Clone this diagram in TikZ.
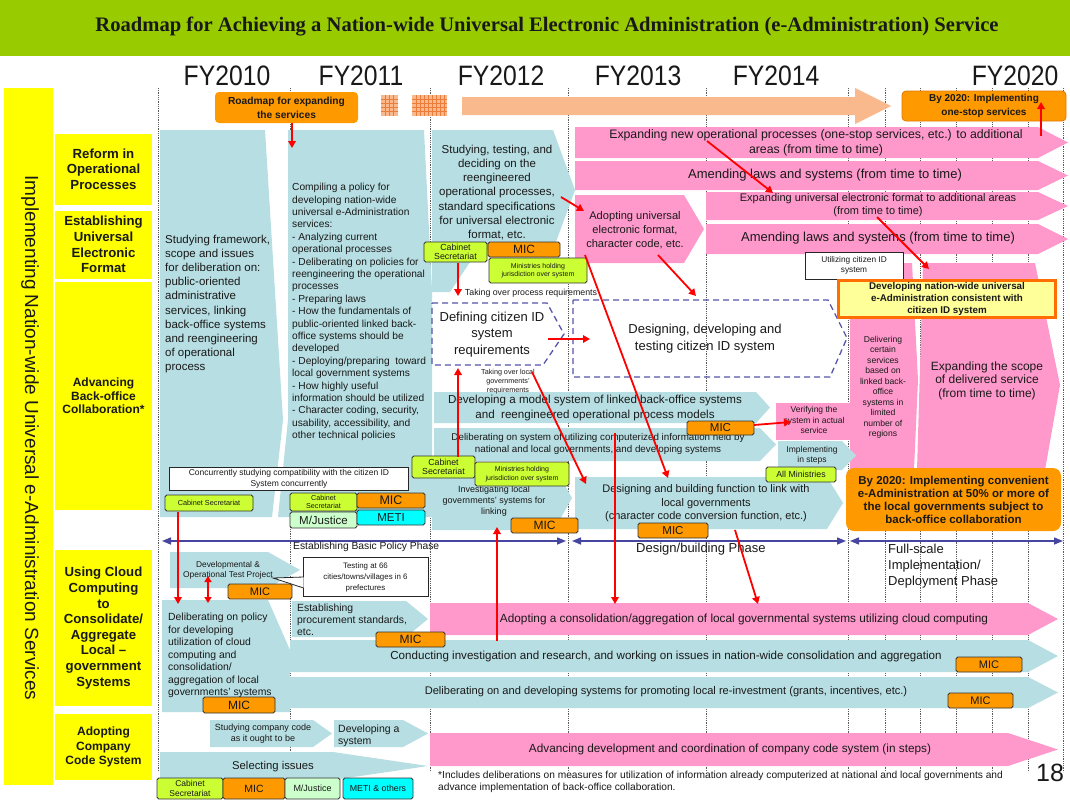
\documentclass[tikz,border=0pt]{standalone}
\usepackage{fontspec}
\setmainfont{Liberation Sans}
\newfontfamily\titlefont{Liberation Serif}
\usetikzlibrary{arrows.meta}
\definecolor{tealc}{RGB}{183,222,226}
\definecolor{pinkc}{RGB}{255,153,204}
\definecolor{yel}{RGB}{255,255,0}
\definecolor{orangec}{RGB}{255,153,0}
\definecolor{limec}{RGB}{204,255,51}
\definecolor{mjc}{RGB}{204,255,204}
\definecolor{cyanc}{RGB}{0,255,255}
\definecolor{lorange}{RGB}{250,185,140}
\definecolor{gridc}{RGB}{235,125,60}
\definecolor{titlegreen}{RGB}{153,204,0}
\definecolor{dashc}{RGB}{85,85,170}
\definecolor{phasec}{RGB}{70,70,160}
\definecolor{txtc}{RGB}{25,25,25}
\definecolor{ylight}{RGB}{255,255,153}
\definecolor{borderor}{RGB}{255,110,0}
\definecolor{boxor}{RGB}{225,120,0}
\definecolor{vlinec}{RGB}{90,90,90}
\definecolor{redc}{RGB}{255,0,0}
\newcommand\fsz[2]{\fontsize{#1}{#2}\selectfont}
\newcommand\pent[6]{\fill[#1] (#2,#3) -- ({#4-#6},#3) -- (#4,{(#3+#5)/2}) -- ({#4-#6},#5) -- (#2,#5) -- cycle;}
\newcommand\tagn[7]{\node[#1, minimum width={(#5-#3)*1pt}, minimum height={(#6-#4)*1pt}] (#2) at ({(#3+#5)/2},{(#4+#6)/2}) {#7};}
\tikzset{
 txt/.style={inner sep=0pt, align=center, text=txtc},
 ltxt/.style={inner sep=0pt, align=left, text=txtc},
 tagb/.style={draw=black!80, line width=0.9pt, rounded corners=1.8pt, inner sep=0pt, text=txtc, align=center},
 mic/.style={tagb, fill=orangec},
 lime/.style={tagb, fill=limec},
 mjus/.style={tagb, fill=mjc},
 meti/.style={tagb, fill=cyanc},
 wbox/.style={draw=black!85, line width=0.8pt, fill=white, inner sep=0pt, text=txtc, align=center},
 lbox/.style={fill=yel, inner sep=0pt, align=center, text=txtc, font=\bfseries\fsz{13.2}{15.6}},
 redarr/.style={draw=redc, line width=1.8pt, -{Triangle[length=7pt,width=7.5pt]}},
 redboth/.style={draw=redc, line width=1.8pt, {Triangle[length=6pt,width=7pt]}-{Triangle[length=6pt,width=7pt]}},
 phase/.style={draw=phasec, line width=1.4pt, {Triangle[length=9pt,width=7pt]}-{Triangle[length=9pt,width=7pt]}},
 dashb/.style={draw=dashc, line width=1.3pt, dash pattern=on 6pt off 4pt},
 vline/.style={draw=vlinec, line width=0.7pt, dash pattern=on 0.9pt off 0.9pt},
}
\begin{document}
\begin{tikzpicture}[x=1pt,y=-1pt]
\useasboundingbox (0,0) rectangle (1070,800);
\fill[white] (0,0) rectangle (1070,800);
% title
\fill[titlegreen] (0,0) rectangle (1070,56);
\node[txt,font=\titlefont\bfseries\fsz{20.6}{22}] (title) at (547,27) {Roadmap for Achieving a Nation-wide Universal Electronic Administration (e-Administration) Service};
% FY labels
\foreach \n/\x/\t in {fya/227/FY2010, fyb/361/FY2011, fyc/501/FY2012, fyd/638/FY2013, fye/776/FY2014, fyf/1015/FY2020}
  \node[txt,font=\fsz{26}{28}] (\n) at (\x,76) {\scalebox{0.95}[1.08]{\t}};
% dotted lines
\foreach \x in {158,290,430,568,706,848,885,920,956,992,1028,1063}
  \draw[vline] (\x,88) -- (\x,772);
% left column
\fill[yel] (4,88) rectangle (53,785);
\node[txt,rotate=-90,font=\fsz{19}{22}] (vt) at (30,438) {Implementing Nation-wide Universal e-Administration Services};
\node[lbox, minimum width=97pt, minimum height=71pt] (lb1) at (103.5,169) {Reform in\\Operational\\Processes};
\node[lbox, minimum width=97pt, minimum height=68pt] (lb2) at (103.5,244.5) {Establishing\\Universal\\Electronic\\Format};
\node[lbox, minimum width=97pt, minimum height=228pt, font=\bfseries\fsz{12}{13.7}] (lb3) at (103.5,396) {Advancing\\Back-office\\Collaboration*};
\node[lbox, minimum width=97pt, minimum height=156pt] (lb4) at (103.5,628) {Using Cloud\\Computing\\to\\Consolidate/\\Aggregate\\Local –\\government\\Systems};
\node[lbox, minimum width=97pt, minimum height=66pt, font=\bfseries\fsz{12}{14.5}] (lb5) at (103.5,747) {Adopting\\Company\\Code System};
% top row
\node[fill=orangec, rounded corners=4pt, minimum width=143pt, minimum height=31pt, inner sep=0pt, align=center, text=txtc, font=\bfseries\fsz{10.2}{14}] (rmap) at (286.5,107.5) {Roadmap for expanding\\the services};
\fill[lorange] (381,95) rectangle (398,116);
\foreach \x in {385,389,393} \draw[gridc,line width=0.6pt] (\x,95) -- (\x,116);
\foreach \y in {99,103,107,111} \draw[gridc,line width=0.6pt] (381,\y) -- (398,\y);
\fill[lorange] (412,95) rectangle (447,116);
\foreach \x in {416,420,424,428,432,436,440,444} \draw[gridc,line width=0.6pt] (\x,95) -- (\x,116);
\foreach \y in {99,103,107,111} \draw[gridc,line width=0.6pt] (412,\y) -- (447,\y);
\fill[lorange] (462,97) -- (855,97) -- (855,88) -- (891,106) -- (855,124) -- (855,115) -- (462,115) -- cycle;
\node[fill=orangec, draw=boxor, line width=0.8pt, rounded corners=4pt, minimum width=164pt, minimum height=30pt, inner sep=0pt, align=center, text=txtc, font=\bfseries\fsz{10}{14}] (by20a) at (984,106) {By 2020: Implementing\\one-stop services};
% teal big shapes
\fill[tealc] (160,130) -- (265,130) -- (283,420) -- (272,517) -- (160,517) -- cycle;
\fill[tealc] (288,130) -- (424,130) -- (432,290) -- (432,517) -- (278,517) -- (288,420) -- cycle;
\fill[tealc] (432,130) -- (553,130) -- (575,190) -- (553,250) -- (478,250) -- (450,292) -- (432,292) -- cycle;
% pink rows
\pent{pinkc}{575}{127}{1068}{158}{30}
\pent{pinkc}{575}{161}{1068}{190}{30}
\pent{pinkc}{575}{195}{704}{263}{20}
\pent{pinkc}{706}{192}{1068}{220}{30}
\pent{pinkc}{706}{224}{1068}{254}{30}
\fill[pinkc] (850,263) -- (912,263) -- (918,380) -- (914,470) -- (850,470) -- cycle;
\fill[pinkc] (923,263) -- (1035,263) -- (1060,385) -- (1045,470) -- (917,470) -- cycle;
\fill[pinkc] (776,403) rectangle (852,440);
% teal middle bands
\pent{tealc}{434}{392}{770}{423}{14}
\pent{tealc}{434}{428}{776}{461}{16}
\pent{tealc}{778}{441}{856}{470}{14}
\pent{tealc}{575}{477}{843}{529}{16}
\pent{tealc}{432}{466}{572}{530}{18}
% cloud rows
\pent{tealc}{170}{552}{300}{588}{32}
\fill[tealc] (162,600) -- (268,600) -- (290,650) -- (290,712) -- (162,712) -- cycle;
\pent{tealc}{292}{601}{428}{637}{22}
\pent{pinkc}{430}{603}{1058}{635}{30}
\pent{tealc}{290}{640}{1058}{672}{30}
\pent{tealc}{290}{677}{1058}{708}{30}
% company rows
\pent{tealc}{210}{720}{332}{747}{19}
\pent{tealc}{334}{720}{428}{747}{25}
\pent{pinkc}{430}{733}{1058}{766}{50}
\pent{tealc}{160}{752}{428}{780}{95}
% dashed boxes
\draw[dashb] (432,303) -- (547,303) -- (564,334) -- (543,365) -- (432,365) -- cycle;
\draw[dashb] (573,300) -- (828,300) -- (847,338) -- (830,377) -- (573,377) -- cycle;
% texts
\node[ltxt,font=\fsz{11.5}{14.2},anchor=west] (st1) at (165,304) {Studying framework,\\scope and issues\\for deliberation on:\\public-oriented\\administrative\\services, linking\\back-office systems\\and reengineering\\of operational\\process};
\node[ltxt,font=\fsz{10.2}{12.4},anchor=west] (st2) at (292,312) {Compiling a policy for\\developing nation-wide\\universal e-Administration\\services:\\- Analyzing current\\operational processes\\- Deliberating on policies for\\reengineering the operational\\processes\\- Preparing laws\\- How the fundamentals of\\public-oriented linked back-\\office systems should be\\developed\\- Deploying/preparing\ \ toward\\local government systems\\- How highly useful\\information should be utilized\\- Character coding, security,\\usability, accessibility, and\\other technical policies};
\node[txt,font=\fsz{11.5}{14.1}] (st3) at (497,192.5) {Studying, testing, and\\deciding on the\\reengineered\\operational processes,\\standard specifications\\for universal electronic\\format, etc.};
\node[txt,font=\fsz{12.3}{15.5}] (p1t) at (816,143) {Expanding new operational processes (one-stop services, etc.) to additional\\areas (from time to time)};
\node[txt,font=\fsz{13}{15}] (p2t) at (825,175) {Amending laws and systems (from time to time)};
\node[txt,font=\fsz{11.1}{14}] (p3t) at (635,230) {Adopting universal\\electronic format,\\character code, etc.};
\node[txt,font=\fsz{11}{13}] (p4t) at (878,205.5) {Expanding universal electronic format to additional areas\\(from time to time)};
\node[txt,font=\fsz{13}{15}] (p5t) at (878,238) {Amending laws and systems (from time to time)};
\node[wbox,font=\fsz{8.3}{10},minimum width=98pt,minimum height=27pt] (util) at (854,265.5) {Utilizing citizen ID\\system};
\node[fill=ylight, draw=borderor, line width=2.2pt, minimum width=217pt, minimum height=37pt, inner sep=0pt, align=center, text=txtc, font=\bfseries\fsz{9.8}{12}] (devnat) at (947,299) {Developing nation-wide universal\\e-Administration consistent with\\citizen ID system};
\node[txt,font=\fsz{8.6}{10.5}] (p6t) at (883,387.5) {Delivering\\certain\\services\\based on\\linked back-\\office\\systems in\\limited\\number of\\regions};
\node[txt,font=\fsz{12}{13.5}] (p7t) at (987,380.5) {Expanding the scope\\of delivered service\\(from time to time)};
\node[txt,font=\fsz{8.8}{10}] (takeproc) at (531,293) {Taking over process requirements};
\node[txt,font=\fsz{13}{16.5}] (defid) at (492,334.5) {Defining citizen ID\\system\\requirements};
\node[txt,font=\fsz{13}{17}] (desid) at (705,338.5) {Designing, developing and\\testing citizen ID system};
\node[txt,font=\fsz{7.2}{9}] (takeloc) at (508,382) {Taking over local\\governments'\\requirements};
\node[txt,font=\fsz{11.6}{15}] (devmod) at (595,407.5) {Developing a model system of linked back-office systems\\and\ \ reengineered operational process models};
\node[txt,font=\fsz{9.8}{12.5}] (delsys) at (598,444) {Deliberating on system of utilizing computerized information held by\\national and local governments, and developing systems};
\node[txt,font=\fsz{8.5}{10.3}] (verif) at (814,420) {Verifying the\\system in actual\\service};
\node[txt,font=\fsz{8.5}{10}] (impst) at (812,455) {Implementing\\in steps};
\node[txt,font=\fsz{11}{13.5}] (desbld) at (706,503.5) {Designing and building function to link with\\local governments\\(character code conversion function, etc.)};
\node[fill=orangec, rounded corners=8pt, minimum width=215pt, minimum height=63pt, inner sep=0pt, align=center, text=txtc, font=\bfseries\fsz{11.5}{13}] (by20b) at (953.5,499.5) {By 2020: Implementing convenient\\e-Administration at 50\% or more of\\the local governments subject to\\back-office collaboration};
\node[txt,font=\fsz{9}{11}] (invest) at (494,501) {Investigating local\\governments' systems for\\linking};
\node[wbox,font=\fsz{8.5}{11},minimum width=239pt,minimum height=23pt] (concur) at (289,478.5) {Concurrently studying compatibility with the citizen ID\\System concurrently};
% tags
\tagn{lime,font=\fsz{8.8}{9.5}}{g1}{424}{242}{487}{262}{Cabinet\\Secretariat}
\tagn{mic,font=\fsz{12}{13}}{m1}{488}{242}{560}{257}{MIC}
\tagn{lime,font=\fsz{7}{8.5}}{g2}{489}{258}{587}{283}{Ministries holding\\jurisdiction over system}
\tagn{lime,font=\fsz{8.8}{9.5}}{g3}{412}{456}{475}{478}{Cabinet\\Secretariat}
\tagn{lime,font=\fsz{7}{8.5}}{g4}{475}{462}{569}{486}{Ministries holding\\jurisdiction over system}
\tagn{mic,font=\fsz{12}{13}}{m2}{511}{518}{578}{533}{MIC}
\tagn{mic,font=\fsz{11.5}{13}}{m3}{687}{421}{754}{435}{MIC}
\tagn{lime,font=\fsz{8.8}{10}}{allm}{766}{467}{836}{482}{All Ministries}
\tagn{mic,font=\fsz{11.5}{13}}{m4}{638}{523}{708}{538}{MIC}
\tagn{lime,font=\fsz{7.3}{8}}{g5}{165}{495}{253}{511}{Cabinet Secretariat}
\tagn{lime,font=\fsz{7.2}{8}}{g6}{290}{493}{357}{511}{Cabinet\\Secretariat}
\tagn{mic,font=\fsz{12.5}{13}}{m5}{357}{493}{425}{508}{MIC}
\tagn{mjus,font=\fsz{11.5}{13}}{mj1}{290}{512}{357}{528}{M/Justice}
\tagn{meti,font=\fsz{11.5}{13}}{meti1}{357}{510}{425}{525}{METI}
% phases
\coordinate (ph1a) at (162,541); \coordinate (ph1b) at (566,541);
\coordinate (ph2a) at (572,541); \coordinate (ph2b) at (846,541);
\coordinate (ph3a) at (850,541); \coordinate (ph3b) at (1063,541);
\draw[phase] (ph1a) -- (ph1b);
\draw[phase] (ph2a) -- (ph2b);
\draw[phase] (ph3a) -- (ph3b);
\node[txt,font=\fsz{10.3}{12},anchor=west] (ph1t) at (293,547) {Establishing Basic Policy Phase};
\node[txt,font=\fsz{13}{15},anchor=west] (ph2t) at (636,549) {Design/building Phase};
\node[ltxt,font=\fsz{13}{16},anchor=west] (ph3t) at (888,566) {Full-scale\\Implementation/\\Deployment Phase};
% cloud texts
\node[txt,font=\fsz{8.4}{10}] (devop) at (228,570) {Developmental \&\\Operational Test Project};
\node[wbox,font=\fsz{7.9}{11},minimum width=125pt,minimum height=39pt] (test66) at (365.5,577) {Testing at 66\\cities/towns/villages in 6\\prefectures};
\coordinate (tailtip) at (273,578);
\draw[black!85, line width=0.8pt, fill=white] (303.6,577) -- (tailtip) -- (303.6,588);
\tagn{mic,font=\fsz{11}{13}}{m6}{228}{584}{292}{599}{MIC}
\node[ltxt,font=\fsz{10.4}{12.5},anchor=west] (delpol) at (168,655.5) {Deliberating on policy\\for developing\\utilization of cloud\\computing and\\consolidation/\\aggregation of local\\governments' systems};
\tagn{mic,font=\fsz{12}{13}}{m8}{203}{697}{275}{713}{MIC}
\node[ltxt,font=\fsz{10.4}{12},anchor=west] (estproc) at (297,620) {Establishing\\procurement standards,\\etc.};
\tagn{mic,font=\fsz{12}{13}}{m7}{376}{632}{445}{647}{MIC}
\node[txt,font=\fsz{11.8}{14}] (adcons) at (744,619) {Adopting a consolidation/aggregation of local governmental systems utilizing cloud computing};
\node[txt,font=\fsz{11.6}{14}] (cond) at (666,656) {Conducting investigation and research, and working on issues in nation-wide consolidation and aggregation};
\node[txt,font=\fsz{11.1}{14}] (delrein) at (666,692) {Deliberating on and developing systems for promoting local re-investment (grants, incentives, etc.)};
\tagn{mic,font=\fsz{11}{13}}{m9}{956}{657}{1022}{672}{MIC}
\tagn{mic,font=\fsz{11}{13}}{m10}{948}{693}{1013}{708}{MIC}
% company texts
\node[txt,font=\fsz{9}{11}] (stcc) at (263,733.5) {Studying company code\\as it ought to be};
\node[ltxt,font=\fsz{10.5}{12},anchor=west] (devsys) at (338,736) {Developing a\\system};
\node[txt,font=\fsz{11.8}{14}] (advcc) at (730,749) {Advancing development and coordination of company code system (in steps)};
\node[txt,font=\fsz{11.3}{13}] (selis) at (273,767) {Selecting issues};
\tagn{lime,font=\fsz{8.5}{10}}{g7}{157}{778}{223}{799}{Cabinet\\Secretariat}
\tagn{mic,font=\fsz{10.5}{12}}{m11}{223}{778}{285}{799}{MIC}
\tagn{mjus,font=\fsz{9}{10}}{mj2}{285}{778}{340}{799}{M/Justice}
\tagn{meti,font=\fsz{8.8}{10}}{meti2}{343}{778}{413}{799}{METI \& others}
\node[ltxt,font=\fsz{10.2}{12},anchor=north west] (foot) at (438,771) {*Includes deliberations on measures for utilization of information already computerized at national and local governments and\\advance implementation of back-office collaboration.};
\node[txt,font=\fsz{25}{27}] (pg) at (1050,773) {18};
% red arrows
\coordinate (r1s) at (292,123); \coordinate (r1e) at (292,148);
\coordinate (r2s) at (1041,136); \coordinate (r2e) at (1041,102);
\coordinate (r3s) at (561,197); \coordinate (r3e) at (584,211);
\coordinate (r4s) at (707,141); \coordinate (r4e) at (773,193);
\coordinate (r5s) at (877,217); \coordinate (r5e) at (929,269);
\coordinate (r6s) at (658,255); \coordinate (r6e) at (696,296);
\coordinate (r7s) at (585,255); \coordinate (r7e) at (668,478);
\coordinate (r8s) at (458,263); \coordinate (r8e) at (458,296);
\coordinate (r9s) at (548,339); \coordinate (r9e) at (590,339);
\coordinate (r10s) at (458,457); \coordinate (r10e) at (458,368);
\coordinate (r11s) at (532,372); \coordinate (r11e) at (586,484);
\coordinate (r12s) at (754,425); \coordinate (r12e) at (791,422);
\coordinate (r13s) at (615,433); \coordinate (r13e) at (615,604);
\coordinate (r14s) at (735,530); \coordinate (r14e) at (758,604);
\coordinate (r15s) at (497,641); \coordinate (r15e) at (497,527);
\coordinate (r16s) at (178,512); \coordinate (r16e) at (178,604);
\coordinate (r17s) at (208,576); \coordinate (r17e) at (208,603);
\foreach \i in {1,...,16} \draw[redarr] (r\i s) -- (r\i e);
\draw[redboth] (r17s) -- (r17e);
\end{tikzpicture}
\end{document}
